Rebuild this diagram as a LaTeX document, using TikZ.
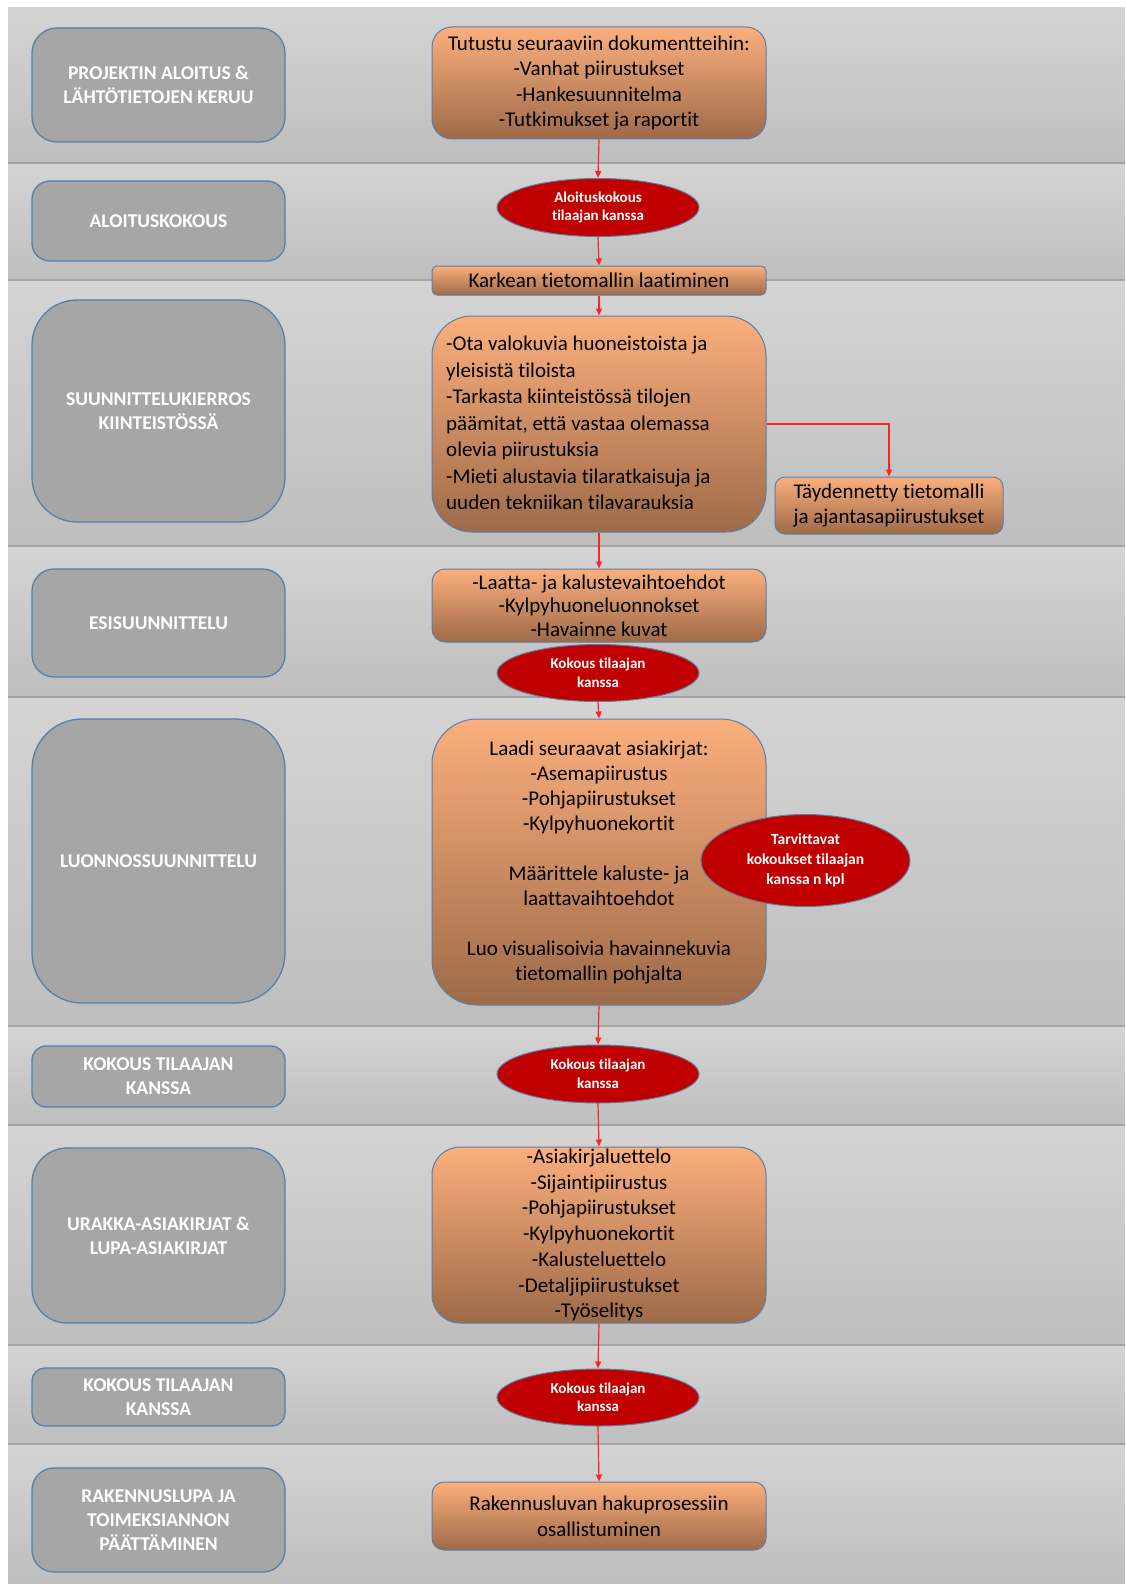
\documentclass[tikz,border=0pt]{standalone}
\usepackage{fontspec}
\setmainfont{Carlito}[Ligatures=NoCommon]
\usetikzlibrary{arrows.meta,shapes.geometric}
\definecolor{lanetop}{HTML}{D4D4D4}
\definecolor{lanebot}{HTML}{BEBEBE}
\definecolor{sepcol}{HTML}{A4A4A4}
\definecolor{graybox}{HTML}{A6A6A6}
\definecolor{bordr}{HTML}{5A7EA6}
\definecolor{otop}{HTML}{FBAF7D}
\definecolor{obot}{HTML}{9E6A49}
\definecolor{ered}{HTML}{C00000}
\definecolor{arr}{HTML}{FF2424}
\tikzset{
  phase/.style={draw=bordr, line width=1.3pt, fill=graybox, text=white,
    font=\bfseries\fontsize{19.5}{24}\selectfont, align=center, inner sep=0pt,
    minimum width=253pt, rounded corners=#1},
  task/.style={draw=bordr, line width=1pt, top color=otop, bottom color=obot,
    font=\fontsize{21}{25.5}\selectfont, align=center, inner sep=0pt,
    minimum width=334pt, rounded corners=#1},
  meet/.style={ellipse, draw=bordr, line width=1pt, fill=ered, text=white,
    font=\bfseries\fontsize{15}{18.5}\selectfont, align=center, inner sep=0pt,
    minimum width=202pt, minimum height=58pt},
  flow/.style={draw=arr, line width=1.2pt, -{Triangle[length=7pt,width=6pt]}},
  lane/.style={top color=lanetop, bottom color=lanebot},
  sepline/.style={draw=sepcol, line width=2pt}
}
\begin{document}
\begin{tikzpicture}[x=1pt,y=-1pt]
\useasboundingbox (0,0) rectangle (1125,1584);
\fill[white] (0,0) rectangle (1125,1584);
% lanes
\foreach \a/\b in {8/163,163/280,280/546,546/697,697/1026,1026/1125,1125/1345,1345/1444,1444/1584}{
  \shade[lane] (8,\a) rectangle (1125,\b);
}
\foreach \b in {163,280,546,697,1026,1125,1345,1444}{
  \draw[sepline] (8,\b) -- (1125,\b);
}
% phase boxes
\node[phase=25pt, minimum height=114pt] (p1) at (158.5,85) {PROJEKTIN ALOITUS \&\\LÄHTÖTIETOJEN KERUU};
\node[phase=18pt, minimum height=80pt] (p2) at (158.5,221) {ALOITUSKOKOUS};
\node[phase=45pt, minimum height=222pt] (p3) at (158.5,411) {SUUNNITTELUKIERROS\\KIINTEISTÖSSÄ};
\node[phase=22pt, minimum height=108pt] (p4) at (158.5,623) {ESISUUNNITTELU};
\node[phase=50pt, minimum height=284pt] (p5) at (158.5,861) {LUONNOSSUUNNITTELU};
\node[phase=14pt, minimum height=61pt] (p6) at (158.5,1076.5) {KOKOUS TILAAJAN\\KANSSA};
\node[phase=35pt, minimum height=175pt] (p7) at (158.5,1235.5) {URAKKA-ASIAKIRJAT \&\\LUPA-ASIAKIRJAT};
\node[phase=13pt, minimum height=58pt] (p8) at (158.5,1397) {KOKOUS TILAAJAN\\KANSSA};
\node[phase=22pt, minimum height=104pt] (p9) at (158.5,1520) {RAKENNUSLUPA JA\\TOIMEKSIANNON\\PÄÄTTÄMINEN};
% task boxes
\node[task=20pt, minimum height=112pt] (tA) at (599,83) {Tutustu seuraaviin dokumentteihin:\\-Vanhat piirustukset\\-Hankesuunnitelma\\-Tutkimukset ja raportit};
\node[task=5pt, minimum height=29pt] (tK) at (599,280.5) {Karkean tietomallin laatiminen};
\node[task=40pt, minimum height=216pt] (tB) at (599,424) {};
\node[anchor=west, align=left, inner sep=0pt, font=\fontsize{21}{26.5}\selectfont] (tBtext) at (446,423) {-Ota valokuvia huoneistoista ja\\yleisistä tiloista\\-Tarkasta kiinteistössä tilojen\\päämitat, että vastaa olemassa\\olevia piirustuksia\\-Mieti alustavia tilaratkaisuja ja\\uuden tekniikan tilavarauksia};
\node[task=10pt, minimum width=228pt, minimum height=57pt, font=\fontsize{21}{25}\selectfont] (tT) at (889,505.5) {Täydennetty tietomalli\\ja ajantasapiirustukset};
\node[task=13pt, minimum height=73pt, font=\fontsize{21}{23.5}\selectfont] (tE) at (599,605.5) {-Laatta- ja kalustevaihtoehdot\\-Kylpyhuoneluonnokset\\-Havainne kuvat};
\node[task=45pt, minimum height=286pt, font=\fontsize{21}{25}\selectfont] (tL) at (599,862) {Laadi seuraavat asiakirjat:\\-Asemapiirustus\\-Pohjapiirustukset\\-Kylpyhuonekortit\\[25pt]Määrittele kaluste- ja\\laattavaihtoehdot\\[25pt]Luo visualisoivia havainnekuvia\\tietomallin pohjalta};
\node[task=28pt, minimum height=176pt, font=\fontsize{21}{25.7}\selectfont] (tU) at (599,1235) {-Asiakirjaluettelo\\-Sijaintipiirustus\\-Pohjapiirustukset\\-Kylpyhuonekortit\\-Kalusteluettelo\\-Detaljipiirustukset\\-Työselitys};
\node[task=12pt, minimum height=68pt, font=\fontsize{21}{26}\selectfont] (tR) at (599,1516) {Rakennusluvan hakuprosessiin\\osallistuminen};
% meetings
\node[meet] (m1) at (598,207.5) {Aloituskokous\\tilaajan kanssa};
\node[meet, minimum height=57pt] (m2) at (598,673) {Kokous tilaajan\\kanssa};
\node[meet, minimum width=209pt, minimum height=92pt, font=\bfseries\fontsize{15.5}{20}\selectfont] (m5) at (805.5,860.5) {Tarvittavat\\kokoukset tilaajan\\kanssa n kpl};
\node[meet] (m3) at (598,1074) {Kokous tilaajan\\kanssa};
\node[meet, minimum height=57pt] (m4) at (598,1397.5) {Kokous tilaajan\\kanssa};
% connectors
\draw[flow] (tA.south) -- (m1.north);
\draw[flow] (m1.south) -- (tK.north);
\draw[flow] (tK.south) -- (tB.north);
\draw[flow] (tB.east) -| (tT.north);
\draw[flow] (tB.south) -- (tE.north);
\draw[flow] (m2.south) -- (tL.north);
\draw[flow] (tL.south) -- (m3.north);
\draw[flow] (m3.south) -- (tU.north);
\draw[flow] (tU.south) -- (m4.north);
\draw[flow] (m4.south) -- (tR.north);
\end{tikzpicture}
\end{document}
